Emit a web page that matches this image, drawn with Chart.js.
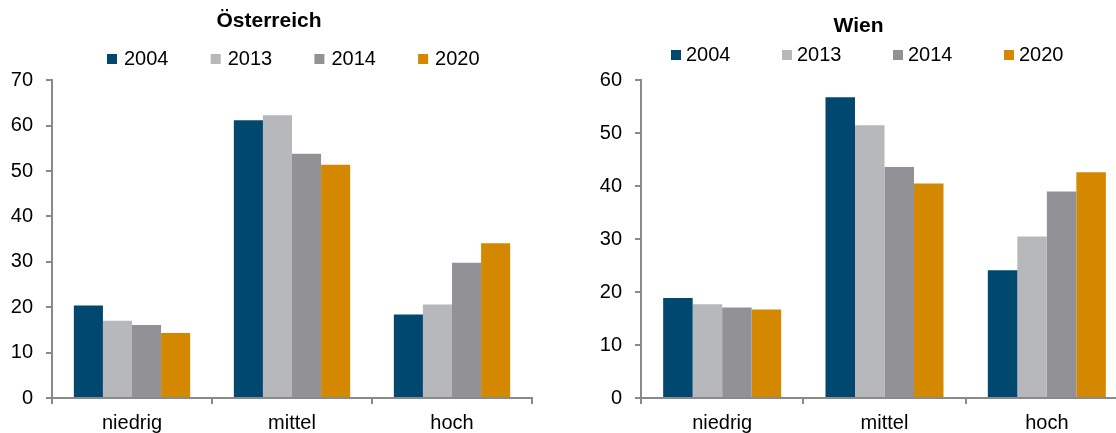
<!DOCTYPE html>
<html>
<head>
<meta charset="utf-8">
<script src="https://cdn.jsdelivr.net/npm/chart.js@4.4.0/dist/chart.umd.min.js"></script>
<style>
    html, body { margin: 0; padding: 0; background: #fff; overflow: hidden; }
    body { width: 1116px; height: 433px; position: relative; }
    .box { position: absolute; top: 0; height: 433px; }
    #boxAt { left: 0; width: 540px; }
    #boxWien { left: 560px; width: 580px; }
</style>
</head>
<body>
<div class="box" id="boxAt"><canvas id="chartAt"></canvas></div>
<div class="box" id="boxWien"><canvas id="chartWien"></canvas></div>

<script>
// categories and years
const categories = ['niedrig', 'mittel', 'hoch'];
const years = ['2004', '2013', '2014', '2020'];

// Österreich, share in %
const at2004 = [20.4, 61.2, 18.4];
const at2013 = [17.0, 62.3, 20.6];
const at2014 = [16.1, 53.8, 29.8];
const at2020 = [14.3, 51.4, 34.1];

// Wien, share in %
const wien2004 = [18.9, 56.8, 24.1];
const wien2013 = [17.7, 51.5, 30.5];
const wien2014 = [17.1, 43.6, 39.0];
const wien2020 = [16.7, 40.5, 42.6];

const yMaxAt = 70;
const yMaxWien = 60;
const yStep = 10;

const colors = ['#00486f', '#b7b8bc', '#929296', '#d48800'];
const axisColor = '#8a8a8a';
const fontFamily = "'Liberation Sans', Arial, sans-serif";

// legend drawn as small squares with year labels, spaced like the original
const boxLegend = {
    id: 'boxLegend',
    afterDraw(chart, args, opts) {
        const ctx = chart.ctx;
        ctx.save();
        ctx.font = opts.fontSize + 'px ' + fontFamily;
        ctx.textBaseline = 'middle';
        ctx.textAlign = 'left';
        chart.data.datasets.forEach((ds, i) => {
            const x = opts.x + i * opts.step;
            ctx.fillStyle = ds.backgroundColor;
            ctx.fillRect(x, opts.y - 5, 10, 10);
            ctx.fillStyle = '#000';
            ctx.fillText(ds.label, x + 10 + opts.gap, opts.y);
        });
        ctx.restore();
    }
};

function makeChart(id, title, series, yMax, cfg) {
    const ctx = document.getElementById(id);
    return new Chart(ctx.getContext('2d'), {
        type: 'bar',
        data: {
            labels: categories,
            datasets: series.map((d, i) => ({
                label: years[i],
                data: d,
                backgroundColor: colors[i],
                borderWidth: 0,
                categoryPercentage: 0.727,
                barPercentage: 1
            }))
        },
        options: {
            responsive: true,
            maintainAspectRatio: false,
            animation: false,
            layout: {
                autoPadding: false,
                padding: { left: cfg.padLeft, right: cfg.padRight, top: 0, bottom: 0 }
            },
            plugins: {
                legend: { display: false },
                tooltip: { enabled: false },
                title: {
                    display: true,
                    text: title,
                    color: '#000',
                    font: { family: fontFamily, size: 21, weight: 'bold', lineHeight: 1.2 },
                    padding: { top: cfg.titleTop, bottom: 55 - cfg.titleTop }
                },
                boxLegend: { x: cfg.legendX, step: cfg.legendStep, y: cfg.legendY, gap: cfg.legendGap, fontSize: 20 }
            },
            scales: {
                x: {
                    grid: { display: true, offset: true, drawOnChartArea: false, drawTicks: true, tickLength: 6, color: axisColor, lineWidth: 2 },
                    border: { display: true, color: axisColor, width: 2 },
                    ticks: { color: '#000', padding: 7, font: { family: fontFamily, size: 20 } },
                    afterFit: (scale) => { scale.height = 35; }
                },
                y: {
                    min: 0,
                    max: yMax,
                    ticks: { stepSize: yStep, color: '#000', padding: 13, font: { family: fontFamily, size: 20 } },
                    grid: { display: true, drawOnChartArea: false, drawTicks: true, tickLength: 6, color: axisColor, lineWidth: 2 },
                    border: { display: true, color: axisColor, width: 2 },
                    afterFit: (scale) => { scale.width = cfg.yWidth; }
                }
            }
        },
        plugins: [boxLegend]
    });
}

makeChart('chartAt', 'Österreich', [at2004, at2013, at2014, at2020], yMaxAt, {
    padLeft: 6, padRight: 8, yWidth: 46,
    titleTop: 9,
    legendX: 107, legendStep: 103.7, legendY: 59, legendGap: 7
});

makeChart('chartWien', 'Wien', [wien2004, wien2013, wien2014, wien2020], yMaxWien, {
    padLeft: 29, padRight: 12, yWidth: 52,
    titleTop: 14,
    legendX: 111, legendStep: 111, legendY: 55, legendGap: 5
});
</script>
</body>
</html>
